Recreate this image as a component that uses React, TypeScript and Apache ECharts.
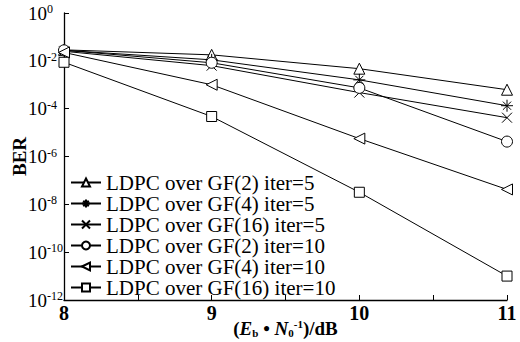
import React, { useEffect, useRef } from "react";
import * as echarts from "echarts";

const xValues = [8, 9, 10, 11];
const seriesNames = [
  "LDPC over GF(2) iter=5",
  "LDPC over GF(4) iter=5",
  "LDPC over GF(16) iter=5",
  "LDPC over GF(2) iter=10",
  "LDPC over GF(4) iter=10",
  "LDPC over GF(16) iter=10",
];
const gf2Iter5 = [0.0288, 0.0178, 4.7e-3, 6.2e-4];
const gf4Iter5 = [0.0275, 0.011, 1.6e-3, 1.33e-4];
const gf16Iter5 = [0.0251, 0.0063, 4.7e-4, 4.2e-5];
const gf2Iter10 = [0.0275, 0.0083, 7.4e-4, 4.2e-6];
const gf4Iter10 = [0.0224, 1.0e-3, 5.6e-6, 4.2e-8];
const gf16Iter10 = [0.0087, 4.7e-5, 3.2e-8, 1.0e-11];
const yTickExponents = [0, -2, -4, -6, -8, -10, -12];

const FONT = "Liberation Serif";

const starPath =
  "path://M5,0 L5,10 M0,5 L10,5 M1.6,1.6 L8.4,8.4 M1.6,8.4 L8.4,1.6";
const crossPath = "path://M0,0 L10,10 M0,10 L10,0";
const leftTriPath = "path://M0,5 L10,0 L10,10 Z";

const symbols = ["triangle", starPath, crossPath, "circle", leftTriPath, "rect"];
const symbolSizes = [11, 12, 10, 11, 11, 10];
const allData = [gf2Iter5, gf4Iter5, gf16Iter5, gf2Iter10, gf4Iter10, gf16Iter10];

export default function App() {
  const ref = useRef<HTMLDivElement>(null);
  useEffect(() => {
    if (!ref.current) return;
    const chart = echarts.init(ref.current, null, { renderer: "svg" });
    chart.setOption({
      animation: false,
      backgroundColor: "#fff",
      grid: { left: 64, right: 13, top: 13, bottom: 42, containLabel: false, outerBoundsMode: "none" },
      legend: {
        orient: "vertical",
        left: 70,
        top: 172,
        itemWidth: 30,
        itemHeight: 10,
        itemGap: 0,
        padding: 0,
        textStyle: { fontFamily: FONT, fontSize: 21, lineHeight: 21, color: "#000" },
        data: seriesNames,
      },
      xAxis: {
        type: "value",
        min: 8,
        max: 11,
        interval: 0.5,
        axisLine: { lineStyle: { color: "#000", width: 1.3 } },
        axisTick: { inside: true, length: 5, lineStyle: { color: "#000" } },
        splitLine: { show: false },
        axisLabel: {
          color: "#000",
          fontFamily: FONT,
          fontSize: 20,
          fontWeight: "bold",
          margin: 3,
          formatter: (v: number) => (Number.isInteger(v) ? String(v) : ""),
        },
        name: "({i|E}{sub|b} • {i|N}{sub|0}{sup|-1})/dB",
        nameLocation: "middle",
        nameGap: 18,
        nameMoveOverlap: false,
        nameTextStyle: {
          color: "#000",
          fontFamily: FONT,
          fontSize: 19,
          fontWeight: "bold",
          lineHeight: 20,
          verticalAlign: "top",
          rich: {
            i: { fontFamily: FONT, fontSize: 19, fontWeight: "bold", fontStyle: "italic", lineHeight: 20, color: "#000" },
            sub: { fontFamily: FONT, fontSize: 11, fontWeight: "bold", lineHeight: 11, verticalAlign: "bottom", color: "#000" },
            sup: { fontFamily: FONT, fontSize: 11, fontWeight: "bold", lineHeight: 11, verticalAlign: "top", color: "#000" },
          },
        },
      },
      yAxis: {
        type: "log",
        logBase: 10,
        min: 1e-12,
        max: 1,
        interval: 2,
        axisLine: { show: true, lineStyle: { color: "#000", width: 1.3 } },
        axisTick: { show: true, inside: true, length: 5, lineStyle: { color: "#000" } },
        splitLine: { show: false },
        axisLabel: {
          align: "left",
          margin: 36,
          formatter: (v: number) => {
            const e = Math.round(Math.log10(v));
            return yTickExponents.includes(e) ? `{b|10}{s|${e}}` : "";
          },
          rich: {
            b: { fontFamily: FONT, fontSize: 19, lineHeight: 20, color: "#000" },
            s: { fontFamily: FONT, fontSize: 12, lineHeight: 12, verticalAlign: "top", padding: [0, 0, 2, 0], color: "#000" },
          },
        },
        name: "BER",
        nameLocation: "middle",
        nameGap: 35,
        nameMoveOverlap: false,
        nameTextStyle: { color: "#000", fontFamily: FONT, fontSize: 19, fontWeight: "bold" },
      },
      series: seriesNames.map((name, idx) => ({
        name,
        type: "line",
        data: xValues.map((x, i) => [x, allData[idx][i]]),
        symbol: symbols[idx],
        symbolSize: symbolSizes[idx],
        showSymbol: true,
        lineStyle: { color: "#000", width: 1 },
        itemStyle: { color: "#fff", borderColor: "#000", borderWidth: 1 },
        emphasis: { disabled: true },
      })),
    });
    return () => chart.dispose();
  }, []);
  return <div ref={ref} style={{ width: 520, height: 342, position: "absolute", left: 0, top: 0 }} />;
}
